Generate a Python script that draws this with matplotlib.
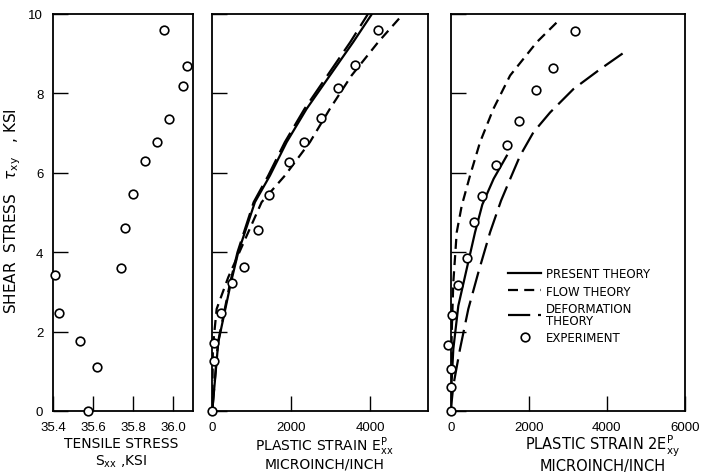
import matplotlib.pyplot as plt
from matplotlib.lines import Line2D

plt.rcParams["font.family"] = ["DejaVu Sans"]
plt.rcParams["mathtext.fontset"] = "dejavusans"

# panel 1: shear stress vs tensile stress (experiment)
sxx_exp = [35.41, 35.43, 35.536, 35.574, 35.62, 35.74, 35.76, 35.80, 35.86,
           35.92, 35.98, 35.956, 36.05, 36.07]
txy_p1 = [3.42, 2.47, 1.76, 0.0, 1.11, 3.61, 4.60, 5.47, 6.29,
          6.77, 7.36, 9.60, 8.18, 8.70]

# panel 2: shear stress vs plastic strain Exx
exx_exp = [0, 43, 43, 213, 492, 811, 1166, 1445, 1944, 2332, 2763, 3178, 3625, 4200]
txy_p2 = [0.0, 1.27, 1.70, 2.46, 3.22, 3.62, 4.57, 5.44, 6.28, 6.78, 7.38, 8.13, 8.72, 9.60]

exx_present = [0, 152, 474, 659, 1082, 1463, 1886, 2393, 2983, 3574, 4050]
txy_present2 = [0, 1.73, 3.24, 4.0, 5.26, 5.93, 6.77, 7.61, 8.45, 9.29, 10.0]
exx_flow = [0, 15, 111, 406, 1252, 1843, 2476, 2983, 3533, 4208, 4843]
txy_flow2 = [0, 1.6, 2.57, 3.37, 5.26, 5.93, 6.77, 7.61, 8.45, 9.29, 10.0]
exx_deform = [0, 145, 455, 640, 1050, 1420, 1840, 2340, 2920, 3500, 3950]
txy_deform2 = [0, 1.73, 3.24, 4.0, 5.26, 5.93, 6.77, 7.61, 8.45, 9.29, 10.0]

# panel 3: shear stress vs plastic strain 2Exy
exy_exp = [0, 0, 0, -60, 42, 195, 426, 605, 810, 1161, 1451, 1759, 2187, 2615, 3187]
txy_p3 = [0.0, 0.6, 1.06, 1.65, 2.42, 3.18, 3.85, 4.77, 5.41, 6.20, 6.70, 7.30, 8.09, 8.64, 9.56]

exy_present = [0, 0, 67, 195, 410, 623, 810, 1100, 1436]
txy_present3 = [0, 0.3, 1.56, 2.65, 3.58, 4.50, 5.2, 5.85, 6.43]
exy_flow = [0, 0, 26, 67, 154, 282, 495, 751, 1093, 1521, 2205, 2759]
txy_flow3 = [0, 0.3, 1.98, 3.24, 4.50, 5.17, 5.93, 6.77, 7.61, 8.45, 9.29, 9.83]
exy_deform = [0, 67, 238, 451, 708, 1008, 1290, 1521, 1777, 2118, 2546, 3144, 3828, 4410]
txy_deform3 = [0, 0.64, 1.56, 2.57, 3.49, 4.50, 5.30, 5.84, 6.43, 7.02, 7.52, 8.11, 8.61, 9.01]

fig = plt.figure(figsize=(7.05, 4.77), dpi=100)
bottom, height = 0.1363, 0.8323
ax1 = fig.add_axes([0.0752, bottom, 0.1986, height])
ax2 = fig.add_axes([0.3011, bottom, 0.3064, height])
ax3 = fig.add_axes([0.6393, bottom, 0.3323, height])

ls_flow = (0, (4.5, 2.8))
ls_deform = (0, (10, 3.5))
mk = dict(ls="none", marker="o", ms=6.2, mfc="white", mec="black", mew=1.2,
          clip_on=False, zorder=5)

for ax in (ax1, ax2, ax3):
    ax.set_ylim(0, 10)
    ax.set_yticks([0, 2, 4, 6, 8, 10])
    ax.tick_params(direction="in", length=11, width=1.0, pad=7,
                   labelsize=9.5, top=False, right=False)
    for s in ax.spines.values():
        s.set_linewidth(1.3)

ax1.plot(sxx_exp, txy_p1, **mk)
ax1.set_xlim(35.4, 36.1)
ax1.set_xticks([35.4, 35.6, 35.8, 36.0])
ax1.set_xticklabels(["35.4", "35.6", "35.8", "36.0"])
ax1.set_yticklabels(["0", "2", "4", "6", "8", "10"])
ax1.set_xlabel("TENSILE STRESS\nS$_{\\mathregular{xx}}$ ,KSI", fontsize=10,
               linespacing=1.25)
ax1.xaxis.set_label_coords(0.486, -0.063)
ax1.set_ylabel("SHEAR  STRESS   $\\tau_{\\mathregular{xy}}$   , KSI", fontsize=11)
ax1.yaxis.set_label_coords(-0.215, 0.505)

ax2.plot(exx_present, txy_present2, color="black", lw=1.6)
ax2.plot(exx_flow, txy_flow2, color="black", lw=1.6, ls=ls_flow)
ax2.plot(exx_deform, txy_deform2, color="black", lw=1.6, ls=ls_deform)
ax2.plot(exx_exp, txy_p2, **mk)
ax2.set_xlim(0, 5480)
ax2.set_xticks([0, 2000, 4000])
ax2.set_yticklabels([])
ax2.set_xlabel("PLASTIC STRAIN E$_{\\mathregular{xx}}^{\\mathregular{P}}$\nMICROINCH/INCH",
               fontsize=10, linespacing=1.0)
ax2.xaxis.set_label_coords(0.52, -0.058)

ax3.plot(exy_present, txy_present3, color="black", lw=1.6)
ax3.plot(exy_flow, txy_flow3, color="black", lw=1.6, ls=ls_flow)
ax3.plot(exy_deform, txy_deform3, color="black", lw=1.6, ls=ls_deform)
ax3.plot(exy_exp, txy_p3, **mk)
ax3.set_xlim(0, 6000)
ax3.set_xticks([0, 2000, 4000, 6000])
ax3.set_yticklabels([])
ax3.set_xlabel("PLASTIC STRAIN 2E$_{\\mathregular{xy}}^{\\mathregular{P}}$\nMICROINCH/INCH",
               fontsize=10.5, linespacing=0.95)
ax3.xaxis.set_label_coords(0.65, -0.056)

for ax in (ax1, ax2, ax3):
    for lbl in ax.get_xticklabels() + ax.get_yticklabels():
        lbl.set_family("Liberation Sans")

handles = [
    Line2D([], [], color="black", lw=1.6),
    Line2D([], [], color="black", lw=1.6, ls=ls_flow),
    Line2D([], [], color="black", lw=1.6, ls=ls_deform),
    Line2D([], [], ls="none", marker="o", ms=6.2, mfc="white", mec="black", mew=1.2),
]
labels = ["PRESENT THEORY", "FLOW THEORY", "DEFORMATION\nTHEORY", "EXPERIMENT"]
leg = ax3.legend(handles, labels, loc="upper left", bbox_to_anchor=(0.225, 0.375),
                 frameon=False, fontsize=8.5, handlelength=2.8, handletextpad=0.4,
                 labelspacing=0.4, borderaxespad=0)
for t in leg.get_texts():
    t.set_linespacing(0.85)

fig.savefig("out.png", dpi=100)
